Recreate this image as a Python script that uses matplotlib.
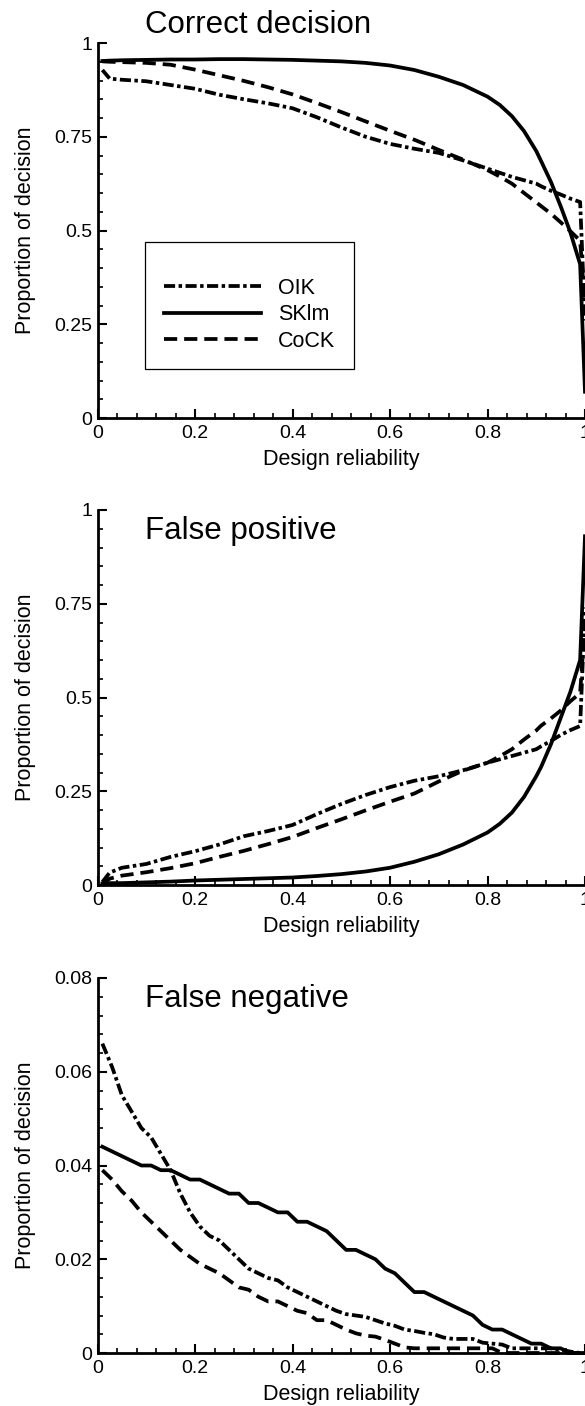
import matplotlib
matplotlib.use("Agg")
import matplotlib.pyplot as plt
from matplotlib.patches import Rectangle
from matplotlib.ticker import MultipleLocator

plt.rcParams['font.family'] = ['Liberation Sans', 'DejaVu Sans']
plt.rcParams['lines.scale_dashes'] = False

# design reliability grid for the correct / false positive panels
x_cd = [0.01, 0.025, 0.05, 0.1, 0.15, 0.2, 0.25, 0.3, 0.35, 0.4, 0.45, 0.5,
        0.55, 0.6, 0.65, 0.7, 0.75, 0.8, 0.825, 0.85, 0.875, 0.9, 0.91, 0.93,
        0.95, 0.97, 0.99, 1.0]

correct_oik = [0.928, 0.905, 0.902, 0.898, 0.888, 0.878, 0.862, 0.85, 0.839, 0.826,
               0.802, 0.775, 0.75, 0.731, 0.718, 0.707, 0.687, 0.665, 0.654, 0.643,
               0.634, 0.625, 0.618, 0.606, 0.596, 0.585, 0.576, 0.26]
correct_sklm = [0.952, 0.953, 0.954, 0.955, 0.956, 0.956, 0.957, 0.957, 0.956, 0.955,
                0.953, 0.951, 0.947, 0.94, 0.928, 0.91, 0.888, 0.857, 0.835, 0.805,
                0.765, 0.712, 0.685, 0.63, 0.565, 0.495, 0.41, 0.07]
correct_cock = [0.951, 0.95, 0.949, 0.947, 0.942, 0.929, 0.914, 0.899, 0.882, 0.863,
                0.84, 0.816, 0.791, 0.766, 0.742, 0.715, 0.689, 0.661, 0.644, 0.625,
                0.60, 0.575, 0.565, 0.545, 0.522, 0.498, 0.473, 0.30]

fp_oik = [0.008, 0.033, 0.046, 0.056, 0.075, 0.09, 0.108, 0.13, 0.144, 0.16,
          0.189, 0.216, 0.24, 0.261, 0.278, 0.29, 0.306, 0.326, 0.335, 0.344,
          0.353, 0.362, 0.37, 0.384, 0.4, 0.413, 0.424, 0.74]
fp_sklm = [0.004, 0.005, 0.005, 0.007, 0.009, 0.012, 0.014, 0.016, 0.018, 0.02,
           0.024, 0.029, 0.036, 0.046, 0.062, 0.082, 0.108, 0.14, 0.163, 0.193,
           0.235, 0.29, 0.315, 0.375, 0.445, 0.515, 0.6, 0.93]
fp_cock = [0.003, 0.017, 0.025, 0.034, 0.045, 0.058, 0.075, 0.091, 0.109, 0.128,
           0.152, 0.175, 0.199, 0.222, 0.244, 0.276, 0.305, 0.326, 0.343, 0.362,
           0.388, 0.412, 0.425, 0.444, 0.465, 0.49, 0.512, 0.70]

# finer grid for the false negative panel
x_fn = [0.01, 0.03, 0.05, 0.07, 0.09, 0.11, 0.13, 0.15, 0.17, 0.19,
        0.21, 0.23, 0.25, 0.27, 0.29, 0.31, 0.33, 0.35, 0.37, 0.39,
        0.41, 0.43, 0.45, 0.47, 0.49, 0.51, 0.53, 0.55, 0.57, 0.59,
        0.61, 0.63, 0.65, 0.67, 0.69, 0.71, 0.73, 0.75, 0.77, 0.79,
        0.81, 0.83, 0.85, 0.87, 0.89, 0.91, 0.93, 0.95, 0.97, 0.99, 1.0]

fn_oik = [0.066, 0.061, 0.055, 0.0515, 0.048, 0.046, 0.0425, 0.039, 0.034, 0.030,
          0.027, 0.025, 0.024, 0.022, 0.020, 0.018, 0.017, 0.016, 0.0155, 0.014,
          0.013, 0.012, 0.011, 0.010, 0.009, 0.0083, 0.008, 0.0077, 0.007, 0.0063,
          0.0058, 0.005, 0.0047, 0.0043, 0.004, 0.0033, 0.003, 0.003, 0.003, 0.0022,
          0.002, 0.0018, 0.001, 0.001, 0.001, 0.001, 0.001, 0.0007, 0.0003, 0.0, 0.0]
fn_sklm = [0.044, 0.043, 0.042, 0.041, 0.040, 0.040, 0.039, 0.039, 0.038, 0.037,
           0.037, 0.036, 0.035, 0.034, 0.034, 0.032, 0.032, 0.031, 0.030, 0.030,
           0.028, 0.028, 0.027, 0.026, 0.024, 0.022, 0.022, 0.021, 0.020, 0.018,
           0.017, 0.015, 0.013, 0.013, 0.012, 0.011, 0.010, 0.009, 0.008, 0.006,
           0.005, 0.005, 0.004, 0.003, 0.002, 0.002, 0.001, 0.001, 0.0, 0.0, 0.0]
fn_cock = [0.039, 0.037, 0.0345, 0.0325, 0.030, 0.028, 0.026, 0.024, 0.022, 0.0205,
           0.019, 0.018, 0.017, 0.0155, 0.014, 0.0135, 0.012, 0.011, 0.011, 0.010,
           0.009, 0.0085, 0.007, 0.007, 0.006, 0.005, 0.0042, 0.0037, 0.0035, 0.0028,
           0.002, 0.0012, 0.001, 0.001, 0.001, 0.001, 0.001, 0.001, 0.001, 0.001,
           0.001, 0.0, 0.0, 0.0, 0.0, 0.0, 0.0, 0.0, 0.0, 0.0, 0.0]

method_names = ['OIK', 'SKlm', 'CoCK']
panel_titles = ['Correct decision', 'False positive', 'False negative']
x_ticks = [0, 0.2, 0.4, 0.6, 0.8, 1.0]
x_ticklabels = ['0', '0.2', '0.4', '0.6', '0.8', '1']
y_ticks_prop = [0, 0.25, 0.5, 0.75, 1.0]
y_ticklabels_prop = ['0', '0.25', '0.5', '0.75', '1']
y_ticks_fn = [0, 0.02, 0.04, 0.06, 0.08]
y_ticklabels_fn = ['0', '0.02', '0.04', '0.06', '0.08']

styles = {
    'OIK': dict(color='black', lw=2.7, dashes=(8, 2.5, 2.5, 2.5)),
    'SKlm': dict(color='black', lw=2.7, linestyle='-'),
    'CoCK': dict(color='black', lw=2.7, dashes=(9.5, 5)),
}

W, H = 585, 1406
fig = plt.figure(figsize=(W / 100, H / 100), dpi=100)

left_px, right_px = 97.5, 585
tops_px = [43, 510, 978]
height_px = 375

panels = [
    (x_cd, [correct_oik, correct_sklm, correct_cock], 1.0, 0.05, y_ticks_prop, y_ticklabels_prop),
    (x_cd, [fp_oik, fp_sklm, fp_cock], 1.0, 0.05, y_ticks_prop, y_ticklabels_prop),
    (x_fn, [fn_oik, fn_sklm, fn_cock], 0.08, 0.004, y_ticks_fn, y_ticklabels_fn),
]

axes = []
for i, (xs, series, ymax, yminor, yt, ytl) in enumerate(panels):
    top = tops_px[i]
    ax = fig.add_axes([left_px / W, 1 - (top + height_px) / H,
                       (right_px - left_px) / W, height_px / H])
    lines = []
    for name, ys in zip(method_names, series):
        ln, = ax.plot(xs, ys, label=name, clip_on=False, **styles[name])
        lines.append(ln)

    ax.set_xlim(0, 1)
    ax.set_ylim(0, ymax)
    ax.set_xticks(x_ticks)
    ax.set_xticklabels(x_ticklabels)
    ax.set_yticks(yt)
    ax.set_yticklabels(ytl)
    ax.xaxis.set_minor_locator(MultipleLocator(0.04))
    ax.yaxis.set_minor_locator(MultipleLocator(yminor))
    ax.tick_params(which='major', direction='in', length=6.5, width=1.5,
                   labelsize=14, pad=5)
    ax.tick_params(which='minor', direction='in', length=3.6, width=1.2)
    ax.tick_params(axis='y', which='major', pad=4)

    for side in ['top', 'right']:
        ax.spines[side].set_visible(False)
    for side in ['left', 'bottom']:
        ax.spines[side].set_linewidth(2.0)

    ax.set_xlabel('Design reliability', fontsize=15.5)
    ax.set_ylabel('Proportion of decision', fontsize=15.5)
    ax.xaxis.set_label_coords(0.5, -0.083)
    ax.yaxis.set_label_coords(-0.126, 0.5)

    if i == 0:
        ax.text(0.097, 1.027, panel_titles[i], transform=ax.transAxes,
                ha='left', va='baseline', fontsize=22.5)
    else:
        ax.text(0.097, 0.923, panel_titles[i], transform=ax.transAxes,
                ha='left', va='baseline', fontsize=22.5)
    axes.append((ax, lines))

# legend box in the first panel
ax0, lines0 = axes[0]
ax0.add_patch(Rectangle((0.098, 0.131), 0.429, 0.339, transform=ax0.transAxes,
                        fill=False, edgecolor='black', lw=0.9, zorder=3))
ax0.legend(lines0, method_names, loc='center left', bbox_to_anchor=(0.136, 0.275),
           frameon=False, fontsize=15.5, handlelength=4.5, handletextpad=0.8,
           labelspacing=0.25, borderpad=0, borderaxespad=0)

fig.savefig('out.png', dpi=100)
